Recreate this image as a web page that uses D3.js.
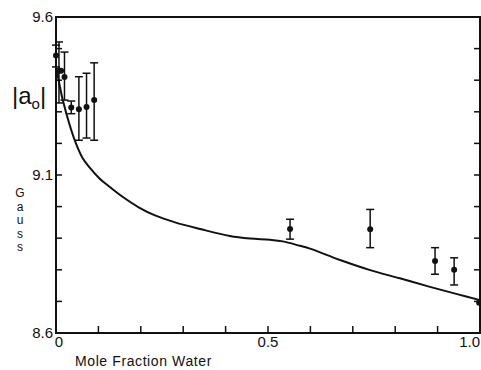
<!DOCTYPE html>
<html><head><meta charset="utf-8">
<script src="https://cdn.jsdelivr.net/npm/d3@7"></script>
<style>body{margin:0;background:#fff}svg{display:block}text{font-family:"Liberation Sans",Arial,sans-serif;fill:#111}</style>
</head><body>
<script>
// measured points with error bars
const ptX  = [0.000, 0.007, 0.012, 0.020, 0.036, 0.054, 0.072, 0.090, 0.552, 0.741, 0.894, 0.939, 0.998];
const ptY  = [9.478, 9.430, 9.430, 9.410, 9.314, 9.308, 9.315, 9.337, 8.929, 8.928, 8.828, 8.800, 8.696];
const ptLo = [9.442, 9.328, null, 9.337, 9.294, 9.210, 9.217, 9.210, 8.897, 8.870, 8.786, 8.752, null];
const ptHi = [9.511, 9.521, null, 9.489, 9.334, 9.411, 9.422, 9.455, 8.960, 8.991, 8.870, 8.838, null];
// theoretical curve
const curveX = [0.001,0.007,0.016,0.031,0.047,0.063,0.079,0.102,0.126,0.157,0.196,0.2335,0.2807,0.340,0.410,0.458,0.505,0.535,0.575,0.599,0.670,0.741,0.811,0.882,0.946,1.0];
const curveY = [9.439,9.394,9.337,9.264,9.200,9.153,9.124,9.090,9.063,9.031,8.997,8.972,8.950,8.929,8.907,8.899,8.895,8.890,8.876,8.867,8.831,8.799,8.773,8.746,8.723,8.704];
const yTicks = [8.6,8.7,8.8,8.9,9.0,9.1,9.2,9.3,9.4,9.5,9.6];
const xTicks = [0,0.1,0.2,0.3,0.4,0.5,0.6,0.7,0.8,0.9,1.0];
const yLabels = ["9.6","9.1","8.6"];
const xLabels = ["0","0.5","1.0"];

const W=481,H=370;
const svg=d3.select("body").append("svg").attr("width",W).attr("height",H);
const L=56,R=480,T=17,B=333;
const x=d3.scaleLinear().domain([0,1]).range([L,R]);
const y=d3.scaleLinear().domain([8.6,9.6]).range([B,T]);

// frame
svg.append("rect").attr("x",L).attr("y",T).attr("width",R-L).attr("height",B-T)
  .attr("fill","none").attr("stroke","#111").attr("stroke-width",2);

// ticks
const g=svg.append("g").attr("stroke","#111").attr("stroke-width",1.5);
g.selectAll(".yl").data(yTicks.slice(1,-1)).join("line")
  .attr("x1",L).attr("x2",L+6).attr("y1",d=>y(d)).attr("y2",d=>y(d));
g.selectAll(".yr").data(yTicks.slice(1,-1)).join("line")
  .attr("x1",R).attr("x2",R-6).attr("y1",d=>y(d)).attr("y2",d=>y(d));
g.selectAll(".xb").data(xTicks.slice(1,-1)).join("line")
  .attr("x1",d=>x(d)).attr("x2",d=>x(d)).attr("y1",B).attr("y2",B-7);

// tick labels
svg.selectAll(".ylab").data(yLabels).join("text")
  .attr("x",L-3).attr("y",d=>y(+d)+5).attr("text-anchor","end")
  .attr("font-size",15).text(d=>d);
svg.selectAll(".xlab").data(xLabels).join("text")
  .attr("x",(d,i)=> i==0? x(+d)+3 : (i==2? W-1 : x(+d)))
  .attr("y",B+14).attr("text-anchor",(d,i)=> i==2?"end":"middle")
  .attr("font-size",15).text(d=>d);

// axis titles
svg.append("text").attr("x",75).attr("y",366).attr("font-size",14).attr("letter-spacing",0.6)
  .text("Mole Fraction Water");
const t=svg.append("text").attr("x",12).attr("y",104).attr("font-size",24);
t.append("tspan").text("|a");
t.append("tspan").attr("font-size",15).attr("dy",5).text("o");
t.append("tspan").attr("dy",-5).text("|");
const gauss="Gauss".split("");
svg.selectAll(".gs").data(gauss).join("text")
  .attr("x",20).attr("y",(d,i)=>197+i*13.5).attr("text-anchor","middle")
  .attr("font-size",12).text(d=>d);

// curve
const line=d3.line().x(d=>x(d[0])).y(d=>y(d[1])).curve(d3.curveCatmullRom.alpha(0.5));
svg.append("path").datum(curveX.map((v,i)=>[v,curveY[i]]))
  .attr("d",line).attr("fill","none").attr("stroke","#111").attr("stroke-width",2);

// error bars
const pts=ptX.map((v,i)=>({x:v,y:ptY[i],lo:ptLo[i],hi:ptHi[i]}));
const eb=svg.append("g").attr("stroke","#111").attr("stroke-width",1.5);
pts.filter(d=>d.lo!==null).forEach(d=>{
  eb.append("line").attr("x1",x(d.x)).attr("x2",x(d.x)).attr("y1",y(d.lo)).attr("y2",y(d.hi));
  eb.append("line").attr("x1",x(d.x)-4).attr("x2",x(d.x)+4).attr("y1",y(d.lo)).attr("y2",y(d.lo));
  eb.append("line").attr("x1",x(d.x)-4).attr("x2",x(d.x)+4).attr("y1",y(d.hi)).attr("y2",y(d.hi));
});
svg.selectAll(".pt").data(pts).join("circle")
  .attr("cx",d=>x(d.x)).attr("cy",d=>y(d.y)).attr("r",3).attr("fill","#111");
</script>
</body></html>
